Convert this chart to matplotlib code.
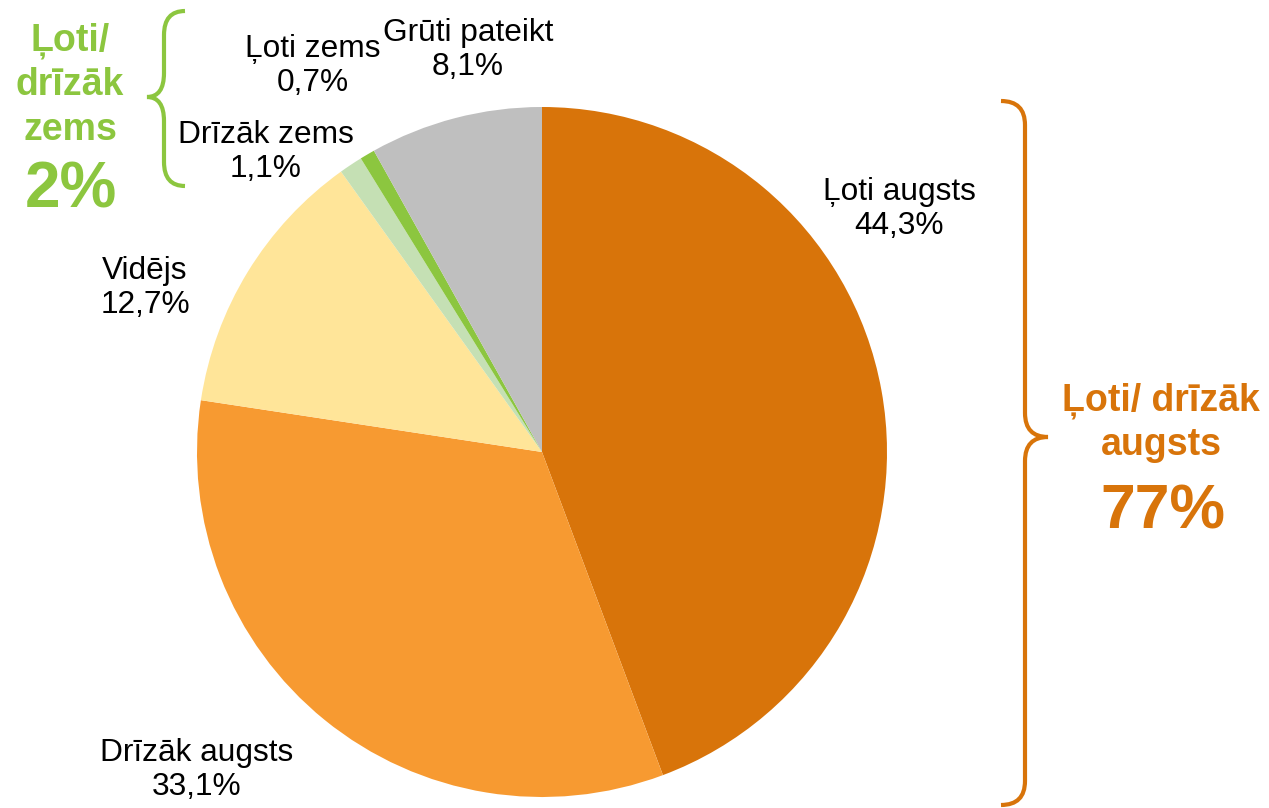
import matplotlib.pyplot as plt
from matplotlib.path import Path
from matplotlib.patches import PathPatch

plt.rcParams['font.family'] = ['Liberation Sans', 'DejaVu Sans']

# data
labels = ['Ļoti augsts', 'Drīzāk augsts', 'Vidējs', 'Drīzāk zems', 'Ļoti zems', 'Grūti pateikt']
values = [44.3, 33.1, 12.7, 1.1, 0.7, 8.1]
colors = ['#D8740A', '#F79A31', '#FFE599', '#C5E0B4', '#8CC63F', '#BFBFBF']
high_total = '77%'
low_total = '2%'

W, H = 1269, 808
fig = plt.figure(figsize=(W / 100, H / 100), dpi=100)
ax = fig.add_axes([0, 0, 1, 1])

cx, cy, r = 542, H - 452, 345
ax.pie(values, colors=colors, startangle=90, counterclock=False,
       center=(cx, cy), radius=r, frame=True,
       wedgeprops=dict(linewidth=0))
ax.set_xlim(0, W)
ax.set_ylim(0, H)
ax.set_aspect('equal')
ax.axis('off')

# slice labels (positions in pixels, y from top)
label_pos = [(899, 209), (197, 770), (145, 288), (266, 152), (313, 66), (468, 50)]
for lab, v, (x, y) in zip(labels, values, label_pos):
    txt = f'{lab}\n{v:.1f}%'.replace('.', ',')
    ax.text(x, H - y, txt, ha='center', va='center', fontsize=22.8,
            linespacing=1.2, color='black')

orange = '#D8740A'
green = '#8CC63F'


def brace(x_end, x_mid, x_tip, y_top, y_tip, y_bot, color):
    c = 24
    pts = [(x_end, y_top), (x_mid, y_top), (x_mid, y_top + c),
           (x_mid, y_tip - c), (x_mid, y_tip), (x_tip, y_tip),
           (x_mid, y_tip), (x_mid, y_tip + c),
           (x_mid, y_bot - c), (x_mid, y_bot), (x_end, y_bot)]
    codes = [Path.MOVETO, Path.CURVE3, Path.CURVE3,
             Path.LINETO, Path.CURVE3, Path.CURVE3,
             Path.CURVE3, Path.CURVE3,
             Path.LINETO, Path.CURVE3, Path.CURVE3]
    pts = [(px, H - py) for px, py in pts]
    ax.add_patch(PathPatch(Path(pts, codes), fill=False, edgecolor=color,
                           linewidth=3, capstyle='butt'))


brace(1001, 1025, 1048, 101, 437, 805, orange)
brace(185, 164, 147, 11, 97, 186, green)

# group totals
ax.text(1161, H - 423, 'Ļoti/ drīzāk\naugsts', ha='center', va='center',
        fontsize=27, fontweight='bold', color=orange, linespacing=1.3)
ax.text(1163, H - 512, high_total, ha='center', va='center',
        fontsize=45, fontweight='bold', color=orange)
ax.text(70, H - 85, 'Ļoti/\ndrīzāk\nzems', ha='center', va='center',
        fontsize=27, fontweight='bold', color=green, linespacing=1.3)
ax.text(71, H - 191, low_total, ha='center', va='center',
        fontsize=46, fontweight='bold', color=green)

fig.savefig('out.png', dpi=100)
